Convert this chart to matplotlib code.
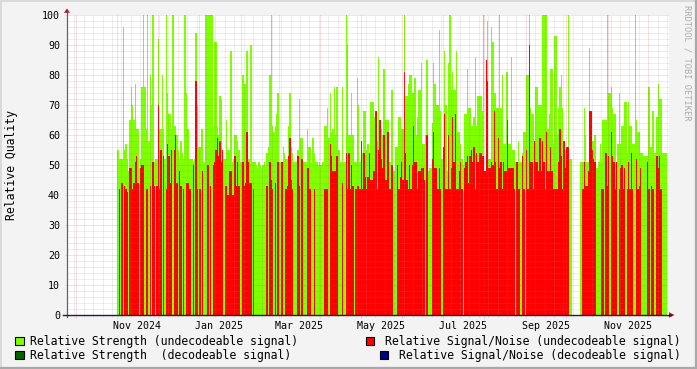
import numpy as np
import matplotlib
matplotlib.use("Agg")
import matplotlib.pyplot as plt
import matplotlib.dates as mdates
from matplotlib.patches import Polygon, Rectangle
from matplotlib.lines import Line2D

# ---------------- data (one value per day, starting at start_date) ----------------
start_date = "2024-11-01"
x_min_date = "2024-09-24T14:00"
x_max_date = "2025-12-16T12:00"

strength_undecodeable = [
    55, 52, 52, 52, 96, 55, 57, 52, 48, 65,
    76, 70, 65, 77, 62, 62, 49, 52, 76, 100,
    76, 62, 100, 58, 80, 70, 100, 51, 52, 52,
    92, 62, 62, 80, 62, 52, 100, 74, 67, 67,
    62, 100, 63, 63, 60, 55, 52, 58, 54, 52,
    100, 74, 62, 52, 52, 52, 51, 52, 94, 70,
    56, 56, 62, 62, 51, 100, 100, 100, 100, 100,
    100, 63, 91, 91, 63, 60, 73, 72, 52, 52,
    52, 65,
    55, 55, 88, 51, 52, 60, 60, 58, 55, 51,
    51, 80, 77, 77, 88, 52, 52, 90, 51, 51,
    51, 50, 49, 51, 50, 49, 50, 51, 50, 54,
    56, 80, 100, 63, 61, 63, 67, 74, 51, 51,
    51, 56, 54, 52, 52, 63, 74, 56, 54, 51,
    51, 51, 55, 72, 59, 59, 51, 51, 51, 62,
    56, 56, 51, 59, 54, 51, 51, 50, 51, 50,
    51, 51, 63, 63, 69, 59, 74, 61, 62, 76, 60, 76,
    55, 55, 51, 76, 51, 51, 100, 90, 60, 60,
    74, 60, 51, 51, 79, 70, 51, 54, 54, 68,
    68, 55, 57, 51, 71, 71, 71, 66, 60, 58,
    86, 62, 62, 60, 82, 65, 65, 65, 51, 51,
    75, 48, 48, 56, 56, 66, 66, 62, 62, 100,
    73, 73, 77, 80, 80, 74, 74, 79, 60, 66,
    75, 75, 84, 57, 57, 60, 85, 48, 49, 49,
    64, 84, 77, 70, 70, 95, 68, 52, 52, 88, 70, 48,
    84, 100, 75, 81, 75, 75, 88, 61, 61, 57,
    52, 50, 67, 67, 82, 69, 69, 63, 63, 66,
    86, 63, 73, 73, 73, 68, 100, 43, 50, 98,
    52, 52, 96, 91, 74, 74, 69, 69, 100, 69,
    80, 57, 57, 81, 81, 57, 57, 86, 55, 55,
    51, 51, 58, 51, 51, 54, 61, 61, 80, 80,
    100, 69, 67, 67, 58, 76, 76, 70, 70, 70,
    100, 100, 100, 100, 62, 67, 82, 82, 57, 93, 93, 60,
    69, 76, 80, 69, 56, 55, 55, 100, 52, 52,
    np.nan, np.nan, np.nan, np.nan, np.nan, np.nan,
    51, 51, 51, 69, 60, 51, 51, 89, 61, 58,
    58, 60, 49, 49, 51, 57, 51, 65, 65, 65,
    100, 74, 74, 76, 69, 67, 67, 51, 57, 74,
    57, 63, 63, 71, 71, 54, 71, 63, 63, 57,
    57, 100, 65, 61, 61, 54, 54, 53, 53, 53,
    53, 76, 56, 56, 68, 54, 54, 66, 77, 72,
    72, 54, 54, 54, 54,
]

snr_undecodeable = [
    0, 42, 0, 44, 0, 43, 42, 41, 0, 49,
    49, 42, 44, 51, 53, 44, 0, 49, 50, 50,
    0, 42, 42, 0, 43, 0, 51, 43, 0, 43,
    70, 42, 55, 0, 53, 0, 42, 57, 53, 44,
    55, 0, 55, 60, 44, 0, 48, 43, 0, 42,
    0, 44, 44, 42, 42, 0, 50, 0, 78, 42,
    0, 42, 0, 48, 0, 0, 0, 50, 0, 43,
    0, 50, 51, 55, 59, 53, 58, 51, 55, 0,
    43, 43,
    40, 48, 48, 40, 40, 53, 43, 51, 43, 0,
    0, 51, 43, 44, 61, 51, 44, 44, 0, 42,
    0, 0, 0, 0, 0, 0, 0, 0, 0, 43,
    0, 51, 45, 42, 0, 44, 0, 51, 0, 0,
    51, 0, 0, 42, 43, 53, 59, 45, 42, 0,
    0, 0, 53, 43, 0, 52, 0, 0, 0, 49,
    49, 42, 0, 0, 42, 0, 0, 0, 0, 0,
    0, 0, 42, 42, 42, 0, 57, 53, 48, 48, 48, 53,
    0, 0, 0, 44, 0, 0, 54, 42, 54, 42,
    50, 43, 0, 42, 43, 43, 42, 58, 42, 54,
    46, 42, 46, 54, 45, 45, 48, 48, 68, 42,
    55, 65, 52, 49, 60, 45, 45, 61, 42, 42,
    50, 0, 0, 0, 50, 42, 46, 51, 45, 81,
    54, 45, 42, 50, 42, 50, 63, 51, 51, 42,
    48, 48, 49, 49, 45, 0, 60, 0, 0, 0,
    52, 61, 49, 49, 42, 49, 42, 0, 56, 67, 42, 42,
    60, 42, 49, 66, 51, 67, 42, 42, 48, 51,
    42, 0, 49, 51, 53, 44, 53, 55, 51, 56,
    42, 54, 51, 54, 54, 53, 53, 48, 85, 78,
    49, 49, 51, 50, 68, 51, 42, 59, 49, 51,
    42, 51, 48, 48, 65, 49, 49, 49, 49, 42,
    0, 51, 42, 42, 0, 53, 42, 0, 55, 42,
    90, 51, 51, 42, 58, 51, 51, 48, 59, 48,
    58, 51, 42, 61, 48, 48, 56, 48, 42, 42, 42, 42,
    51, 62, 53, 42, 58, 49, 56, 56, 0, 0,
    np.nan, np.nan, np.nan, np.nan, np.nan, np.nan,
    0, 0, 42, 51, 43, 43, 48, 68, 68, 55,
    52, 51, 0, 0, 0, 0, 42, 42, 0, 54,
    43, 53, 0, 61, 53, 51, 42, 51, 0, 42,
    49, 50, 42, 49, 0, 42, 51, 42, 54, 42,
    0, 0, 52, 42, 43, 49, 0, 0, 0, 0,
    51, 42, 0, 43, 42, 0, 0, 53, 49, 53,
    42, 0, 0, 0, 0,
]

xtick_months = ["2024-11", "2025-01", "2025-03", "2025-05", "2025-07", "2025-09", "2025-11"]
xtick_labels = ["Nov 2024", "Jan 2025", "Mar 2025", "May 2025", "Jul 2025", "Sep 2025", "Nov 2025"]
ytick_values = [0, 10, 20, 30, 40, 50, 60, 70, 80, 90, 100]

legend_items = [
    ("Relative Strength (undecodeable signal)", "#7FFF00"),
    ("Relative Strength  (decodeable signal)", "#006400"),
    ("Relative Signal/Noise (undecodeable signal)", "#FF0000"),
    ("Relative Signal/Noise (decodeable signal)", "#000088"),
]

# ---------------- figure ----------------
plt.rcParams["font.family"] = ["DejaVu Sans Mono"]
W, H = 697, 369
fig = plt.figure(figsize=(W / 100, H / 100), dpi=100, facecolor="#F3F3F3")
L, R, T, B = 67, 669, 15, 315
ax = fig.add_axes([L / W, 1 - B / H, (R - L) / W, (B - T) / H])
ax.set_facecolor("white")
for s in ax.spines.values():
    s.set_visible(False)


def fx(x):
    return x / W


def fy(y):
    return 1 - y / H


t0 = np.datetime64(start_date)
n = len(strength_undecodeable)
edges = mdates.date2num(t0 + np.arange(n + 1).astype("timedelta64[D]"))
green = np.nan_to_num(np.array(strength_undecodeable, dtype=float))
red = np.nan_to_num(np.array(snr_undecodeable, dtype=float))

ax.stairs(green, edges, fill=True, color="#7FFF00", linewidth=0, zorder=1)
ax.stairs(red, edges, fill=True, color="#FF0000", linewidth=0, zorder=1.2)

xmin = mdates.date2num(np.datetime64(x_min_date))
xmax = mdates.date2num(np.datetime64(x_max_date))
ax.set_xlim(xmin, xmax)
ax.set_ylim(0, 100)

# ---------------- grid (drawn over data, like rrdtool) ----------------
minor_c = (0.55, 0.55, 0.55, 0.30)
major_c = (0.85, 0.25, 0.25, 0.32)
dot = (0, (1, 1))
for v in range(2, 100, 2):
    if v % 10:
        ax.axhline(v, color=minor_c, lw=0.72, ls=dot, zorder=3)
for v in range(10, 101, 10):
    ax.axhline(v, xmin=-2.5 / (R - L), xmax=1, color=major_c, lw=0.72, ls=dot,
               zorder=3.1, clip_on=False)

days = np.arange(np.datetime64("2024-09-20"), np.datetime64("2025-12-20"))
dn = mdates.date2num(days)
dd = days.astype("datetime64[D]")
month_start = dd == dd.astype("datetime64[M]").astype("datetime64[D]")
weekday = (dd.astype(int) + 3) % 7  # 0 = Monday
for d, ms, wd in zip(dn, month_start, weekday):
    if d <= xmin or d >= xmax:
        continue
    if ms:
        ax.axvline(d, ymin=-3 / (B - T), ymax=1, color=major_c, lw=0.72, ls=dot,
                   zorder=3.1, clip_on=False)
    elif wd == 0:
        ax.axvline(d, ymin=-2 / (B - T), ymax=1, color=minor_c, lw=0.72, ls=dot,
                   zorder=3, clip_on=False)

# ---------------- ticks ----------------
label_pos = [mdates.date2num(np.datetime64(m + "-01") + np.timedelta64(15, "D"))
             for m in xtick_months]
ax.set_xticks(label_pos, labels=xtick_labels)
ax.set_yticks(ytick_values, labels=[str(v) for v in ytick_values])
ax.tick_params(axis="x", length=0, pad=4, labelsize=7.2, colors="#000000")
ax.tick_params(axis="y", length=0, pad=5, labelsize=7.2, colors="#000000")

# ---------------- axes + arrows ----------------
fig.add_artist(Line2D([fx(L), fx(L)], [fy(B + 2), fy(11)], color="#606070", lw=0.9))
fig.add_artist(Line2D([fx(L - 4), fx(671)], [fy(B), fy(B)], color="#1C1C48", lw=1.0))
fig.add_artist(Polygon([[fx(64), fy(12.8)], [fx(70), fy(12.8)], [fx(67), fy(8.5)]],
                       closed=True, color="#9A1A1A", lw=0))
fig.add_artist(Polygon([[fx(669), fy(312.3)], [fx(669), fy(317.7)], [fx(674.5), fy(315)]],
                       closed=True, color="#9A1A1A", lw=0))

# ---------------- texts ----------------
fig.text(fx(12), fy(165), "Relative Quality", rotation=90, ha="center", va="center",
         fontsize=8.3, color="#000000")
fig.text(fx(686.5), fy(5), "RRDTOOL / TOBI OETIKER", rotation=270, ha="center", va="top",
         fontsize=6.2, color="#ABABAB")

# legend
rows = [341, 355]
bw = 8.5
for i, (label, col) in enumerate(legend_items):
    yc = rows[i % 2]
    if i < 2:
        bx = 15
        fig.add_artist(Rectangle((fx(bx), fy(yc + bw / 2)), bw / W, bw / H,
                                 facecolor=col, edgecolor="black", lw=0.8))
        fig.text(fx(bx + 15), fy(yc), label, ha="left", va="center", fontsize=8.3)
    else:
        tx = 681
        fig.text(fx(tx), fy(yc), label, ha="right", va="center", fontsize=8.3)
        nch = len(label)
        bx = tx - nch * 6.98 - 15
        fig.add_artist(Rectangle((fx(bx), fy(yc + bw / 2)), bw / W, bw / H,
                                 facecolor=col, edgecolor="black", lw=0.8))

# 3D-ish border
fig.add_artist(Line2D([0, 1], [fy(0.5), fy(0.5)], color="#DADADA", lw=1.4))
fig.add_artist(Line2D([fx(0.5), fx(0.5)], [0, 1], color="#DADADA", lw=1.4))
fig.add_artist(Line2D([0, 1], [fy(368), fy(368)], color="#A8A8A8", lw=1.6))
fig.add_artist(Line2D([fx(696), fx(696)], [0, 1], color="#A8A8A8", lw=1.6))

fig.savefig("out.png", dpi=100, facecolor=fig.get_facecolor())
